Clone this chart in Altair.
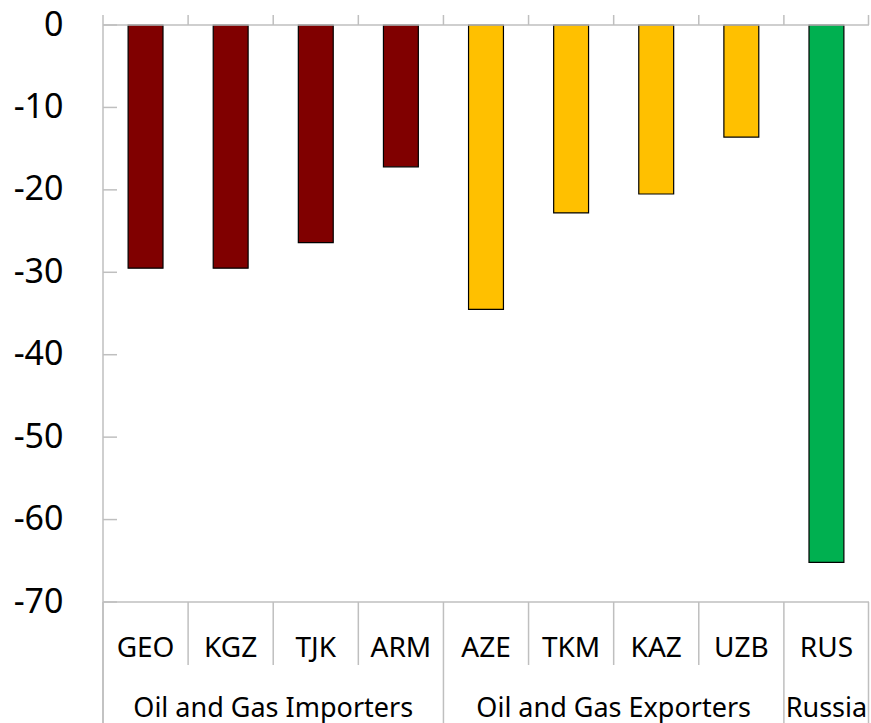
import altair as alt
import pandas as pd

categories = ["GEO", "KGZ", "TJK", "ARM", "AZE", "TKM", "KAZ", "UZB", "RUS"]
values = [-29.5, -29.5, -26.4, -17.2, -34.5, -22.8, -20.5, -13.6, -65.2]
cat_groups = ["Oil and Gas Importers"] * 4 + ["Oil and Gas Exporters"] * 4 + ["Russia"]
group_names = ["Oil and Gas Importers", "Oil and Gas Exporters", "Russia"]
group_colors = ["#800000", "#FFC000", "#00B050"]
y_ticks = [0, -10, -20, -30, -40, -50, -60, -70]

FONT = "Noto Sans"
GREY = "#BFBFBF"
W, H = 766, 577

df = pd.DataFrame({"cat": categories, "value": values, "group": cat_groups})

# group starts / centres (index based on the category list)
starts, centres = [], []
for g in group_names:
    idx = [i for i, c in enumerate(cat_groups) if c == g]
    starts.append(categories[idx[0]])
    centres.append((idx[0] + idx[-1] + 1) / 2)
grp_df = pd.DataFrame({"group": group_names, "centre": centres})
inner_df = pd.DataFrame({"cat": [c for c in categories if c not in starts]})
start_df = pd.DataFrame({"cat": starts})
top_df = pd.DataFrame({"cat": categories[1:]})
tick_df = pd.DataFrame({"v": y_ticks})

xscale = alt.Scale(domain=categories, paddingInner=0, paddingOuter=0)
yscale = alt.Scale(domain=[-70, 0], nice=False, zero=False)
yaxis = alt.Axis(values=y_ticks, labelExpr="'' + datum.value", domain=False, ticks=False, grid=False,
                 labelFontSize=34, labelFont=FONT, labelColor="black",
                 labelPadding=40, labelFlush=False, labelOverlap=False)

def xenc(band=0.5):
    return alt.X("cat:N", scale=xscale, axis=None, sort=categories, bandPosition=band)

def yenc(field):
    return alt.Y(field, scale=yscale, title=None, axis=yaxis)

bars = alt.Chart(df).mark_bar(
    width=alt.RelativeBandSize(0.41), stroke="black", strokeWidth=1.2
).encode(
    x=alt.X("cat:N", scale=xscale, axis=None, sort=categories),
    y=yenc("value:Q"),
    y2=alt.datum(0),
    color=alt.Color("group:N", scale=alt.Scale(domain=group_names, range=group_colors), legend=None),
)

# horizontal lines at 0 and -70
hlines = alt.Chart(pd.DataFrame({"v": [0, -70]})).mark_rule(color=GREY, strokeWidth=1.5).encode(
    y=yenc("v:Q"), x=alt.value(0), x2=alt.value(W)
)
# left axis line
vaxis = alt.Chart(pd.DataFrame({"v": [0]})).mark_rule(color=GREY, strokeWidth=1.5).encode(
    x=alt.value(0), y=alt.value(-10), y2=alt.value(H + 121)
)
# y ticks (inward)
yticks = alt.Chart(tick_df).mark_rule(color=GREY, strokeWidth=1.5).encode(
    y=yenc("v:Q"), x=alt.value(0), x2=alt.value(14)
)
# top category ticks
topticks = alt.Chart(top_df).mark_rule(color=GREY, strokeWidth=1.5).encode(
    x=xenc(0), y=alt.value(-10), y2=alt.value(0)
)
topend = alt.Chart(pd.DataFrame({"v": [0]})).mark_rule(color=GREY, strokeWidth=1.5).encode(
    x=alt.value(W - 0.5), y=alt.value(-10), y2=alt.value(0)
)
# category separators below
inner_seps = alt.Chart(inner_df).mark_rule(color=GREY, strokeWidth=1.5).encode(
    x=xenc(0), y=alt.value(H), y2=alt.value(H + 63)
)
group_seps = alt.Chart(start_df).mark_rule(color=GREY, strokeWidth=1.5).encode(
    x=xenc(0), y=alt.value(H), y2=alt.value(H + 121)
)
end_sep = alt.Chart(pd.DataFrame({"v": [0]})).mark_rule(color=GREY, strokeWidth=1.5).encode(
    x=alt.value(W - 0.5), y=alt.value(H), y2=alt.value(H + 121)
)
cat_labels = alt.Chart(df).mark_text(
    font=FONT, fontSize=28, color="black", baseline="alphabetic", align="center"
).encode(x=xenc(0.5), y=alt.value(632), text="cat:N")

inner = alt.layer(bars, hlines, vaxis, yticks, topticks, topend, inner_seps, group_seps,
                  end_sep, cat_labels)

grp_labels = alt.Chart(grp_df).mark_text(
    font=FONT, fontSize=27, color="black", baseline="alphabetic", align="center"
).encode(
    x=alt.X("centre:Q", scale=alt.Scale(domain=[0, len(categories)], nice=False, zero=False), axis=None),
    y=alt.value(692), text="group:N"
)

chart = alt.layer(inner, grp_labels).resolve_scale(x="independent").properties(
    width=W, height=H,
    padding={"left": 103, "top": 25, "right": 2, "bottom": 121},
    autosize=alt.AutoSizeParams(type="none"),
).configure_view(stroke=None)

chart.save("out.html", embed_options={"renderer": "svg", "actions": False})
